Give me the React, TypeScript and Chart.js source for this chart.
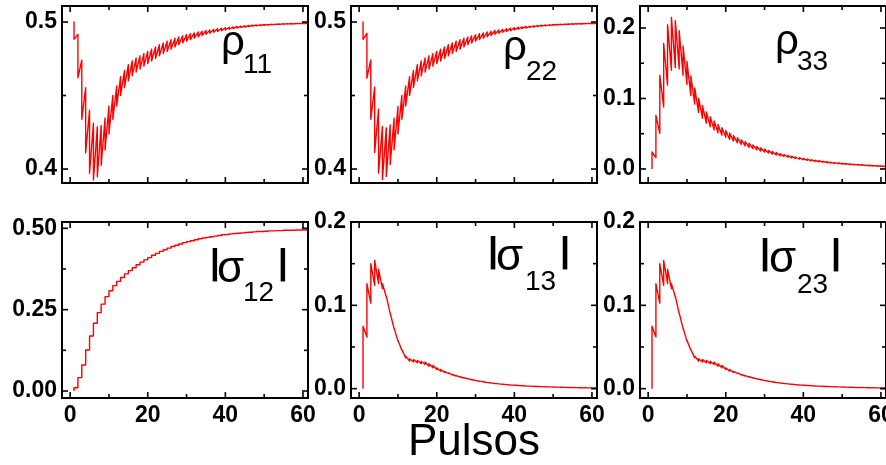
import React, { useEffect, useRef } from "react";
import { Chart, registerables } from "chart.js";
Chart.register(...registerables);

const FONT = "'Liberation Sans', Arial, Helvetica, sans-serif";

// ---------- shared x axis (pulse number) ----------
const PULSES = Array.from({ length: 62 }, (_, i) => i + 1);
const X_MIN = -2.1;
const X_MAX = 61.3;
const xTickValues = [0, 10, 20, 30, 40, 50, 60];
const xTickLabels = ["0", "", "20", "", "40", "", "60"];
const xAxisTitle = "Pulsos";

// ---------- y ticks ----------
const rhoYTicks = [0.4, 0.45, 0.5];
const rhoYLabels = ["0.4", "", "0.5"];
const rho33YTicks = [0, 0.05, 0.1, 0.15, 0.2];
const rho33YLabels = ["0.0", "", "0.1", "", "0.2"];
const sigma12YTicks = [0, 0.125, 0.25, 0.375, 0.5];
const sigma12YLabels = ["0.00", "", "0.25", "", "0.50"];
const sigmaYTicks = [0, 0.05, 0.1, 0.15, 0.2];
const sigmaYLabels = ["0.0", "", "0.1", "", "0.2"];

// ---------- series: value just before / just after each pulse ----------
const rho11Pre = [0.5000, 0.4916, 0.4741, 0.4553, 0.4401, 0.4311, 0.4288, 0.4297, 0.4347, 0.4429,
  0.4501, 0.4565, 0.4628, 0.4670, 0.4710, 0.4735, 0.4755, 0.4770, 0.4785, 0.4800,
  0.4815, 0.4830, 0.4845, 0.4858, 0.4870, 0.4880, 0.4890, 0.4898, 0.4906, 0.4913,
  0.4920, 0.4926, 0.4932, 0.4937, 0.4942, 0.4946, 0.4950, 0.4954, 0.4958, 0.4961,
  0.4964, 0.4967, 0.4970, 0.4972, 0.4974, 0.4976, 0.4978, 0.4980, 0.4981, 0.4983,
  0.4984, 0.4985, 0.4986, 0.4987, 0.4988, 0.4989, 0.4990, 0.4990, 0.4991, 0.4992,
  0.4992, 0.4993];
const rho11Post = [0.4882, 0.4621, 0.4338, 0.4111, 0.3971, 0.3925, 0.3948, 0.4025, 0.4129, 0.4238,
  0.4338, 0.4429, 0.4501, 0.4555, 0.4600, 0.4635, 0.4660, 0.4680, 0.4700, 0.4718,
  0.4735, 0.4752, 0.4770, 0.4786, 0.4800, 0.4815, 0.4830, 0.4845, 0.4858, 0.4870,
  0.4880, 0.4890, 0.4900, 0.4908, 0.4916, 0.4923, 0.4930, 0.4936, 0.4941, 0.4946,
  0.4951, 0.4955, 0.4959, 0.4963, 0.4966, 0.4969, 0.4972, 0.4974, 0.4976, 0.4978,
  0.4980, 0.4981, 0.4983, 0.4984, 0.4985, 0.4986, 0.4987, 0.4988, 0.4989, 0.4990,
  0.4990];

const rho22Pre = [0.5000, 0.4923, 0.4742, 0.4557, 0.4407, 0.4290, 0.4280, 0.4300, 0.4345, 0.4425,
  0.4500, 0.4565, 0.4628, 0.4670, 0.4710, 0.4735, 0.4755, 0.4770, 0.4785, 0.4800,
  0.4815, 0.4830, 0.4845, 0.4858, 0.4870, 0.4880, 0.4890, 0.4898, 0.4906, 0.4913,
  0.4920, 0.4926, 0.4932, 0.4937, 0.4942, 0.4946, 0.4950, 0.4954, 0.4958, 0.4961,
  0.4964, 0.4967, 0.4970, 0.4972, 0.4974, 0.4976, 0.4978, 0.4980, 0.4981, 0.4983,
  0.4984, 0.4985, 0.4986, 0.4987, 0.4988, 0.4989, 0.4990, 0.4990, 0.4991, 0.4992,
  0.4992, 0.4993];
const rho22Post = [0.4882, 0.4618, 0.4339, 0.4113, 0.3973, 0.3928, 0.3950, 0.4030, 0.4130, 0.4238,
  0.4338, 0.4429, 0.4501, 0.4555, 0.4600, 0.4635, 0.4660, 0.4680, 0.4700, 0.4718,
  0.4735, 0.4752, 0.4770, 0.4786, 0.4800, 0.4815, 0.4830, 0.4845, 0.4858, 0.4870,
  0.4880, 0.4890, 0.4900, 0.4908, 0.4916, 0.4923, 0.4930, 0.4936, 0.4941, 0.4946,
  0.4951, 0.4955, 0.4959, 0.4963, 0.4966, 0.4969, 0.4972, 0.4974, 0.4976, 0.4978,
  0.4980, 0.4981, 0.4983, 0.4984, 0.4985, 0.4986, 0.4987, 0.4988, 0.4989, 0.4990,
  0.4990];

const rho33Pre = [0.0000, 0.0160, 0.0506, 0.0880, 0.1190, 0.1400, 0.1440, 0.1420, 0.1330, 0.1200,
  0.1040, 0.0920, 0.0800, 0.0720, 0.0650, 0.0600, 0.0555, 0.0515, 0.0480, 0.0450,
  0.0420, 0.0395, 0.0370, 0.0348, 0.0326, 0.0306, 0.0288, 0.0270, 0.0254, 0.0239,
  0.0225, 0.0211, 0.0199, 0.0187, 0.0176, 0.0166, 0.0156, 0.0147, 0.0138, 0.0130,
  0.0122, 0.0115, 0.0108, 0.0102, 0.0096, 0.0090, 0.0085, 0.0080, 0.0075, 0.0071,
  0.0067, 0.0063, 0.0059, 0.0055, 0.0052, 0.0049, 0.0046, 0.0043, 0.0041, 0.0038,
  0.0036, 0.0034];
const rho33Post = [0.0241, 0.0760, 0.1330, 0.1780, 0.2047, 0.2150, 0.2105, 0.1960, 0.1745, 0.1525,
  0.1320, 0.1150, 0.1000, 0.0900, 0.0810, 0.0740, 0.0680, 0.0630, 0.0585, 0.0545,
  0.0510, 0.0475, 0.0445, 0.0415, 0.0390, 0.0365, 0.0342, 0.0320, 0.0300, 0.0282,
  0.0264, 0.0248, 0.0233, 0.0218, 0.0205, 0.0193, 0.0181, 0.0170, 0.0160, 0.0150,
  0.0141, 0.0132, 0.0124, 0.0117, 0.0110, 0.0103, 0.0097, 0.0091, 0.0086, 0.0081,
  0.0076, 0.0071, 0.0067, 0.0063, 0.0059, 0.0055, 0.0052, 0.0049, 0.0046, 0.0043,
  0.0040];

const sigma12Start = 0.0;
const sigma12Levels = [0.010, 0.041, 0.080, 0.126, 0.169, 0.208, 0.241, 0.267, 0.290, 0.308,
  0.324, 0.337, 0.349, 0.360, 0.370, 0.379, 0.388, 0.396, 0.403, 0.410,
  0.417, 0.423, 0.429, 0.434, 0.439, 0.444, 0.448, 0.452, 0.456, 0.459,
  0.462, 0.465, 0.468, 0.470, 0.472, 0.474, 0.476, 0.478, 0.480, 0.481,
  0.483, 0.484, 0.485, 0.486, 0.487, 0.488, 0.489, 0.490, 0.490, 0.491,
  0.492, 0.492, 0.493, 0.493, 0.494, 0.494, 0.494, 0.495, 0.495, 0.495,
  0.496];

const sigma13Pre = [0.000, 0.062, 0.1026, 0.124, 0.126, 0.120, 0.110, 0.090, 0.072, 0.057,
  0.046, 0.037, 0.033, 0.032, 0.031, 0.030, 0.029, 0.027, 0.025, 0.023,
  0.021, 0.0195, 0.0182, 0.0165, 0.0152, 0.0140, 0.0128, 0.0117, 0.0107, 0.0097,
  0.0089, 0.0081, 0.0074, 0.0068, 0.0062, 0.0057, 0.0052, 0.0048, 0.0044, 0.0041,
  0.0038, 0.0035, 0.0032, 0.0030, 0.0028, 0.0026, 0.0024, 0.0022, 0.0021, 0.0019,
  0.0018, 0.0016, 0.0015, 0.0014, 0.0013, 0.0012, 0.0011, 0.0010, 0.0009, 0.0009,
  0.0008, 0.0007];
const sigma13Post = [0.075, 0.126, 0.150, 0.154, 0.1435, 0.126, 0.111, 0.091, 0.073, 0.058,
  0.047, 0.039, 0.036, 0.035, 0.034, 0.033, 0.032, 0.030, 0.028, 0.025,
  0.023, 0.0208, 0.0190, 0.0170, 0.0156, 0.0143, 0.0131, 0.0120, 0.0110, 0.0100,
  0.0091, 0.0083, 0.0076, 0.0069, 0.0063, 0.0058, 0.0053, 0.0049, 0.0045, 0.0042,
  0.0039, 0.0036, 0.0033, 0.0031, 0.0029, 0.0027, 0.0025, 0.0023, 0.0021, 0.0020,
  0.0018, 0.0017, 0.0016, 0.0015, 0.0014, 0.0013, 0.0012, 0.0011, 0.0010, 0.0009,
  0.0008];

const sigma23Pre = [0.000, 0.062, 0.1026, 0.124, 0.126, 0.120, 0.110, 0.090, 0.072, 0.057,
  0.046, 0.037, 0.033, 0.032, 0.031, 0.030, 0.029, 0.027, 0.025, 0.023,
  0.021, 0.0195, 0.0182, 0.0165, 0.0152, 0.0140, 0.0128, 0.0117, 0.0107, 0.0097,
  0.0089, 0.0081, 0.0074, 0.0068, 0.0062, 0.0057, 0.0052, 0.0048, 0.0044, 0.0041,
  0.0038, 0.0035, 0.0032, 0.0030, 0.0028, 0.0026, 0.0024, 0.0022, 0.0021, 0.0019,
  0.0018, 0.0016, 0.0015, 0.0014, 0.0013, 0.0012, 0.0011, 0.0010, 0.0009, 0.0009,
  0.0008, 0.0007];
const sigma23Post = [0.075, 0.126, 0.150, 0.154, 0.1435, 0.126, 0.111, 0.091, 0.073, 0.058,
  0.047, 0.039, 0.036, 0.035, 0.034, 0.033, 0.032, 0.030, 0.028, 0.025,
  0.023, 0.0208, 0.0190, 0.0170, 0.0156, 0.0143, 0.0131, 0.0120, 0.0110, 0.0100,
  0.0091, 0.0083, 0.0076, 0.0069, 0.0063, 0.0058, 0.0053, 0.0049, 0.0045, 0.0042,
  0.0039, 0.0036, 0.0033, 0.0031, 0.0029, 0.0027, 0.0025, 0.0023, 0.0021, 0.0020,
  0.0018, 0.0017, 0.0016, 0.0015, 0.0014, 0.0013, 0.0012, 0.0011, 0.0010, 0.0009,
  0.0008];

// ---------- helpers turning the tables into chart points ----------
function sawtooth(pre: number[], post: number[]) {
  const pts: { x: number; y: number }[] = [];
  post.forEach((v, i) => {
    pts.push({ x: PULSES[i], y: pre[i] });
    pts.push({ x: PULSES[i], y: v });
  });
  pts.push({ x: PULSES[post.length], y: pre[post.length] });
  return pts;
}
function staircase(start: number, levels: number[]) {
  const pts: { x: number; y: number }[] = [{ x: PULSES[0], y: start }];
  levels.forEach((v, i) => pts.push({ x: PULSES[i], y: v }));
  pts.push({ x: PULSES[levels.length], y: levels[levels.length - 1] });
  return pts;
}

// ---------- layout ----------
const COL_LEFT = [0, 289, 578];
const ROW_TOP = [0, 196];
const ROW_H = [190, 269];
const ROW_PAD_TOP = [6, 26];
const X_AXIS_H = [7, 67];
const CANVAS_W = 330;
const Y_AXIS_W = 62;
const PLOT_W = 246;

type LabelSpec = {
  main: string; sub: string; mainLeft: number; mainBase: number; mainSize: number;
  subLeft: number; subBase: number; bars?: number[]; barTop?: number; barBottom?: number;
};
type PanelSpec = {
  id: string; col: number; row: number; yMin: number; yMax: number;
  yTicks: number[]; yLabels: string[]; points: { x: number; y: number }[];
  stepped: boolean; label: LabelSpec; title?: string;
};

const PANELS: PanelSpec[] = [
  { id: "rho11", col: 0, row: 0, yMin: 0.3905, yMax: 0.5109, yTicks: rhoYTicks, yLabels: rhoYLabels,
    points: sawtooth(rho11Pre, rho11Post), stepped: false,
    label: { main: "ρ", sub: "11", mainLeft: 223, mainBase: 55, mainSize: 42, subLeft: 245, subBase: 73 } },
  { id: "rho22", col: 1, row: 0, yMin: 0.3905, yMax: 0.5109, yTicks: rhoYTicks, yLabels: rhoYLabels,
    points: sawtooth(rho22Pre, rho22Post), stepped: false,
    label: { main: "ρ", sub: "22", mainLeft: 505, mainBase: 60, mainSize: 42, subLeft: 527, subBase: 80 } },
  { id: "rho33", col: 2, row: 0, yMin: -0.0199, yMax: 0.2312, yTicks: rho33YTicks, yLabels: rho33YLabels,
    points: sawtooth(rho33Pre, rho33Post), stepped: false,
    label: { main: "ρ", sub: "33", mainLeft: 777, mainBase: 54, mainSize: 42, subLeft: 798, subBase: 70 } },
  { id: "sigma12", col: 0, row: 1, yMin: -0.0215, yMax: 0.5194, yTicks: sigma12YTicks, yLabels: sigma12YLabels,
    points: staircase(sigma12Start, sigma12Levels), stepped: true,
    label: { main: "σ", sub: "12", mainLeft: 218, mainBase: 282, mainSize: 44, subLeft: 245, subBase: 301,
      bars: [212, 280], barTop: 248, barBottom: 282 } },
  { id: "sigma13", col: 1, row: 1, yMin: -0.0112, yMax: 0.2, yTicks: sigmaYTicks, yLabels: sigmaYLabels,
    points: sawtooth(sigma13Pre, sigma13Post), stepped: false, title: xAxisTitle,
    label: { main: "σ", sub: "13", mainLeft: 497, mainBase: 270, mainSize: 44, subLeft: 527, subBase: 290,
      bars: [490, 562], barTop: 235, barBottom: 270 } },
  { id: "sigma23", col: 2, row: 1, yMin: -0.0112, yMax: 0.2, yTicks: sigmaYTicks, yLabels: sigmaYLabels,
    points: sawtooth(sigma23Pre, sigma23Post), stepped: false,
    label: { main: "σ", sub: "23", mainLeft: 770, mainBase: 272, mainSize: 44, subLeft: 798, subBase: 293,
      bars: [762, 833], barTop: 237, barBottom: 272 } },
];

function drawInk(ctx: CanvasRenderingContext2D, text: string, font: string, inkLeft: number, base: number) {
  ctx.font = font;
  const m = ctx.measureText(text);
  ctx.fillText(text, inkLeft + m.actualBoundingBoxLeft, base);
}
function drawBar(ctx: CanvasRenderingContext2D, inkLeft: number, top: number, bottom: number) {
  const refSize = 40;
  ctx.font = `bold ${refSize}px ${FONT}`;
  const m = ctx.measureText("|");
  const h = m.actualBoundingBoxAscent + m.actualBoundingBoxDescent;
  const size = (refSize * (bottom - top)) / h;
  ctx.font = `bold ${size}px ${FONT}`;
  const m2 = ctx.measureText("|");
  ctx.fillText("|", inkLeft + m2.actualBoundingBoxLeft, bottom - m2.actualBoundingBoxDescent);
}

const decoPlugin = {
  id: "panelDeco",
  afterDraw(chart: any, _args: any, opts: any) {
    const { ctx, chartArea: a } = chart;
    const xs = chart.scales.x;
    const ys = chart.scales.y;
    const yLabels: string[] = opts.yLabels;
    ctx.save();
    ctx.strokeStyle = "#000";
    ctx.lineWidth = 1.6;
    const seg = (x1: number, y1: number, x2: number, y2: number) => {
      ctx.beginPath();
      ctx.moveTo(x1, y1);
      ctx.lineTo(x2, y2);
      ctx.stroke();
    };
    ys.ticks.forEach((t: any, i: number) => {
      const py = ys.getPixelForValue(t.value);
      const len = yLabels[i] ? 6 : 4;
      seg(a.left, py, a.left + len, py);
      seg(a.right, py, a.right - len, py);
    });
    xs.ticks.forEach((t: any, i: number) => {
      const px = xs.getPixelForValue(t.value);
      const len = xTickLabels[i] ? 6 : 4;
      seg(px, a.bottom, px, a.bottom - len);
      seg(px, a.top, px, a.top + len);
    });
    ctx.lineWidth = 2;
    ctx.strokeRect(a.left, a.top, a.right - a.left, a.bottom - a.top);

    // panel label
    const L = opts.label;
    const ox = opts.offsetX;
    const oy = opts.offsetY;
    ctx.fillStyle = "#000";
    ctx.textAlign = "left";
    ctx.textBaseline = "alphabetic";
    if (L.bars) {
      drawBar(ctx, L.bars[0] - ox, L.barTop - oy, L.barBottom - oy);
      drawBar(ctx, L.bars[1] - ox, L.barTop - oy, L.barBottom - oy);
    }
    drawInk(ctx, L.main, `${L.mainSize}px ${FONT}`, L.mainLeft - ox, L.mainBase - oy);
    drawInk(ctx, L.sub, `28px ${FONT}`, L.subLeft - ox, L.subBase - oy);
    ctx.restore();
  },
};

function PanelChart({ p }: { p: PanelSpec }) {
  const ref = useRef<HTMLCanvasElement>(null);
  const left = COL_LEFT[p.col];
  const top = ROW_TOP[p.row];
  const height = ROW_H[p.row];
  useEffect(() => {
    const tickFont = { family: FONT, size: 23, weight: "bold" as const };
    const chart = new Chart(ref.current as HTMLCanvasElement, {
      type: "line",
      data: {
        datasets: [
          {
            data: p.points,
            borderColor: "#ff0000",
            borderWidth: 1.4,
            pointRadius: 0,
            fill: false,
            tension: 0,
            stepped: p.stepped,
            borderJoinStyle: "round",
          } as any,
        ],
      },
      options: {
        animation: false,
        responsive: false,
        devicePixelRatio: 1,
        events: [],
        layout: { padding: { left: 0, right: CANVAS_W - Y_AXIS_W - PLOT_W, top: ROW_PAD_TOP[p.row], bottom: 0 } },
        plugins: {
          legend: { display: false },
          tooltip: { enabled: false },
          panelDeco: { yLabels: p.yLabels, label: p.label, offsetX: left, offsetY: top },
        } as any,
        scales: {
          x: {
            type: "linear",
            min: X_MIN,
            max: X_MAX,
            grid: { display: false, drawTicks: false, tickLength: 0 },
            border: { display: false },
            afterBuildTicks: (s: any) => {
              s.ticks = xTickValues.map((v) => ({ value: v }));
            },
            afterFit: (s: any) => {
              s.height = X_AXIS_H[p.row];
              s.paddingLeft = 0;
              s.paddingRight = 0;
            },
            ticks: {
              autoSkip: false,
              maxRotation: 0,
              minRotation: 0,
              padding: 4,
              color: "#000",
              font: tickFont,
              callback: (_v: any, i: number) => (p.row === 1 ? xTickLabels[i] : ""),
            },
            title: p.title
              ? { display: true, text: p.title, color: "#000", font: { family: FONT, size: 44, lineHeight: 1 }, padding: { top: 0, bottom: 0 } }
              : { display: false },
          },
          y: {
            type: "linear",
            min: p.yMin,
            max: p.yMax,
            grid: { display: false, drawTicks: false, tickLength: 0 },
            border: { display: false },
            afterBuildTicks: (s: any) => {
              s.ticks = p.yTicks.map((v) => ({ value: v }));
            },
            afterFit: (s: any) => {
              s.width = Y_AXIS_W;
              s.paddingTop = 0;
              s.paddingBottom = 0;
            },
            ticks: {
              autoSkip: false,
              padding: 5,
              color: "#000",
              font: tickFont,
              callback: (_v: any, i: number) => p.yLabels[i],
            },
          },
        } as any,
      },
      plugins: [decoPlugin],
    });
    return () => chart.destroy();
  }, []);
  return (
    <canvas
      ref={ref}
      width={CANVAS_W}
      height={height}
      style={{ position: "absolute", left, top, width: CANVAS_W, height, display: "block" }}
    />
  );
}

export default function App() {
  return (
    <div style={{ position: "fixed", left: 0, top: 0, width: 886, height: 465, overflow: "hidden", background: "#fff" }}>
      {PANELS.map((p) => (
        <PanelChart key={p.id} p={p} />
      ))}
    </div>
  );
}
